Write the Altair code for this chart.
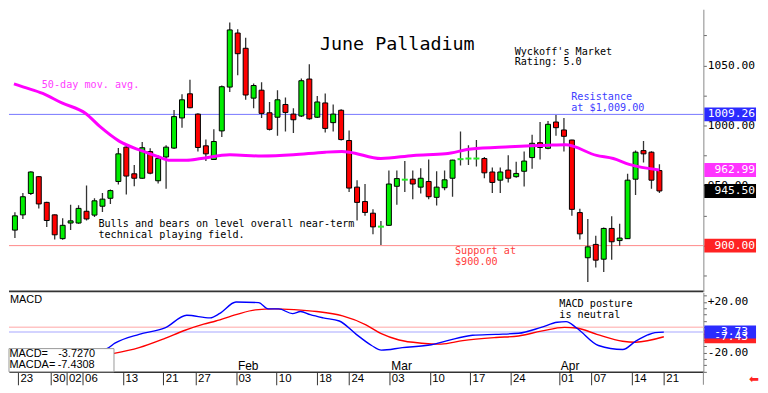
import altair as alt
import pandas as pd

# ---------------- data ----------------
day_index = list(range(82))
opens = [912.9, 925.6, 943.4, 957.4, 936.0, 925.6, 905.8, 918.8, 918.8, 928.6,
         925.4, 932.8, 939.4, 953.4, 982.0, 959.8, 956.1, 978.3, 954.0, 973.8,
         981.2, 1006.3, 1026.4, 1009.5, 983.1, 971.7, 995.5, 1032.0, 1077.0, 1064.3,
         1022.8, 1029.4, 1010.6, 1006.9, 1017.5, 1009.5, 1007.9, 1038.7, 1006.9, 1018.8,
         1002.4, 1012.7, 987.5, 948.7, 936.7, 927.0, 915.4, 916.9, 949.4, 954.5,
         955.3, 948.7, 953.4, 940.2, 948.2, 956.1, 971.8, 972.3, 972.3, 972.5,
         961.3, 954.5, 962.9, 957.4, 961.9, 973.3, 985.7, 981.0, 1002.9, 996.3,
         987.9, 927.5, 889.9, 901.0, 888.7, 914.3, 904.2, 905.8, 955.3, 979.1,
         977.8, 962.5]
highs = [927.8, 943.9, 961.9, 958.0, 936.5, 926.0, 922.8, 934.1, 933.6, 950.0,
         939.4, 943.9, 946.8, 981.2, 983.0, 967.2, 986.3, 981.0, 975.2, 983.6,
         1012.9, 1026.0, 1038.1, 1010.3, 988.3, 996.8, 1033.3, 1085.7, 1080.2, 1073.0,
         1034.9, 1036.0, 1019.6, 1029.4, 1023.3, 1014.3, 1039.1, 1051.0, 1024.6, 1026.7,
         1017.5, 1013.5, 995.8, 954.5, 951.3, 930.2, 920.4, 962.5, 962.5, 970.4,
         962.5, 964.5, 971.7, 961.9, 962.5, 971.4, 995.0, 983.6, 987.9, 973.8,
         965.1, 965.1, 975.2, 969.8, 978.3, 992.3, 1002.9, 1003.7, 1008.7, 1006.3,
         988.1, 930.7, 922.2, 908.2, 915.1, 924.4, 918.3, 959.8, 979.1, 987.1,
         978.6, 967.7]
lows = [906.3, 922.2, 942.1, 931.0, 915.6, 905.0, 904.8, 912.9, 918.3, 920.9,
        923.8, 928.0, 934.7, 950.8, 942.6, 949.4, 955.6, 959.5, 951.8, 947.4,
        980.4, 998.2, 1014.3, 978.3, 970.4, 971.4, 990.5, 1028.0, 1041.8, 1021.4,
        1014.3, 1006.3, 995.8, 991.5, 995.0, 993.7, 1007.1, 1004.8, 1006.3, 994.2,
        995.0, 987.5, 944.7, 920.9, 924.8, 909.5, 900.6, 916.7, 934.1, 944.7,
        938.7, 943.4, 938.7, 933.3, 946.0, 940.7, 966.7, 967.2, 965.9, 956.1,
        943.9, 943.9, 952.6, 956.6, 949.2, 964.1, 971.7, 980.2, 991.5, 978.3,
        924.8, 905.0, 869.8, 881.7, 878.0, 888.3, 899.8, 905.6, 942.1, 969.3,
        947.4, 943.9]
closes = [924.8, 940.7, 961.3, 934.7, 920.9, 909.0, 916.9, 920.6, 931.0, 922.2,
          937.3, 938.7, 945.8, 976.4, 957.9, 956.1, 981.5, 960.3, 972.5, 982.0,
          1007.4, 1021.4, 1014.8, 981.7, 976.4, 986.7, 1032.3, 1079.6, 1059.8, 1025.4,
          1033.3, 1010.1, 996.8, 1021.4, 1010.9, 1004.8, 1037.3, 1005.6, 1019.6, 997.6,
          1009.5, 988.3, 947.9, 936.0, 927.6, 915.6, 915.8, 951.3, 955.8, 954.9,
          951.3, 956.1, 940.7, 948.7, 954.8, 971.2, 972.0, 972.5, 972.5, 960.6,
          952.6, 961.3, 956.1, 960.1, 970.4, 985.2, 981.7, 1001.0, 998.2, 991.0,
          930.2, 909.8, 899.0, 887.9, 914.3, 903.2, 906.3, 954.5, 977.8, 976.4,
          954.5, 945.5]

ma_index = [-0.12, 1.1, 3.5, 5.9, 8.9, 10.7, 13.1, 15.9, 18, 19.5, 21.6, 23.4, 27, 31,
            35, 39, 41.1, 42, 46, 50.1, 54.1, 57.3, 62.2, 67.1, 69.2, 73.1, 75.2, 77.2, 81]
ma_values = [1034.7, 1032, 1026.7, 1018.8, 1010, 999, 987, 979, 974, 971, 971, 972.5, 975.6,
             974.6, 975.6, 977.8, 978.3, 977.8, 972.5, 975.1, 976.4, 980.4, 982.3, 983.6,
             983.9, 975.1, 972.5, 967.7, 962.99]

macd_index = [9, 12, 13, 16, 19.2, 21.9, 24.8, 26, 28, 30.8, 32, 33.3, 35, 36, 37.2, 38.8,
              40.8, 42.9, 44.8, 46, 48.6, 52.2, 54.2, 57.3, 60.2, 63, 65.8, 67.8, 68.9,
              70.2, 72.9, 75.9, 77.5, 79, 79.9, 81]
macd_values = [-20, -16.8, -12.5, -5.5, -0.5, 9.5, 7.5, 11, 20, 19.5, 14.6, 14.6, 10.8, 12.5,
               10, 7.5, 5, -5.5, -14.3, -18, -16, -13.7, -10.5, -6.2, -5.5, -4.7, 0, 4, 4.5,
               -0.5, -14.3, -17.5, -11, -6, -4.2, -3.73]
macda_index = [9, 12.9, 16, 19.2, 21.6, 24, 25.5, 28, 30.4, 32.8, 35.2, 38, 41.2, 44.1, 46,
               48.2, 51, 53.4, 56.1, 60.2, 63, 65.8, 68.7, 70.2, 72.7, 75.9, 77.5, 81]
macda_values = [-24, -20.5, -16, -8.7, -2.5, 2.5, 5, 10, 13.8, 14.6, 14, 12.5, 9, 2, -5,
                -10, -12.5, -13.2, -10.5, -8, -6.8, -3, 0, -0.5, -5.5, -11, -11.7, -7.43]

tick_index = [1, 5, 7, 9, 14, 19, 23, 28, 33, 38, 42, 47, 52, 57, 62, 68, 72, 77, 81]
tick_labels = ["23", "30", "02", "06", "13", "21", "27", "03", "10", "18", "24",
               "03", "10", "17", "24", "01", "07", "14", "21"]
month_index = [28, 47, 68]
month_labels = ["Feb", "Mar", "Apr"]

resistance = 1009.26
support = 900.00
price_boxes = [1009.26, 962.99, 945.50, 900.00]
price_box_labels = ["1009.26", "962.99", "945.50", "900.00"]
price_box_colors = ["#2b2bff", "#ff33ff", "#000000", "#ff2222"]
macd_boxes = [-7.43, -3.73]
macd_box_labels = ["-7.43", "-3.73"]
macd_box_colors = ["#ff2222", "#2b2bff"]

# ---------------- layout ----------------
W = 699
H1 = 284
H2 = 80
BOXW = 53
MONO = "DejaVu Sans Mono"
SANS = "Liberation Sans"

xscale = alt.Scale(domain=[-0.12, 85.9], nice=False, zero=False)
yscale = alt.Scale(domain=[861.9, 1096.8], nice=False, zero=False)
mscale = alt.Scale(domain=[-35.1, 27.6], nice=False, zero=False)

# axis labels that the value boxes cover completely in the reference are left blank
yax = alt.Axis(orient="right", title=None, values=list(range(875, 1100, 25)),
               labelExpr="(datum.value % 50 == 0 && datum.value != 900) ? format(datum.value, '.2f') : ''",
               tickSize=3, labelPadding=1, grid=False, domainColor="#888888",
               tickColor="#666666", labelFont=MONO, labelFontSize=11.3, labelColor="black")

lab_arr = [""] * 82
for i, s in zip(tick_index, tick_labels):
    lab_arr[i] = s
label_expr = "[" + ",".join("'" + s + "'" for s in lab_arr) + "][datum.value]"
xax = alt.Axis(orient="bottom", title=None, values=tick_index, labelExpr=label_expr,
               tickSize=13, tickColor="#333333", domainColor="#333333", domainWidth=1.5,
               labelAlign="left", labelBaseline="top", labelPadding=-12, labelOffset=2,
               labelFont=SANS, labelFontSize=11.5, labelColor="black", labelFlush=False,
               labelOverlap=False, grid=False)
max_ = alt.Axis(orient="right", title=None, values=list(range(-35, 30, 5)),
                labelExpr="datum.value == 20 ? '+20.00' : datum.value == -20 ? '-20.00' : ''",
                tickSize=3, labelPadding=1, grid=False, domainColor="#888888",
                tickColor="#666666", labelFont=MONO, labelFontSize=11.3, labelColor="black")


def note(text, x, y, color="black", size=10.2, font=MONO, align="left"):
    return alt.Chart(pd.DataFrame({"t": [text]})).mark_text(
        align=align, baseline="middle", font=font, fontSize=size, color=color
    ).encode(x=alt.value(x), y=alt.value(y), text="t:N")


# ---------------- price panel ----------------
df = pd.DataFrame({"i": day_index, "o": opens, "h": highs, "l": lows, "c": closes})
X = alt.X("i:Q", scale=xscale, axis=None)

levels = alt.Chart(pd.DataFrame({"v": [resistance, support], "col": ["#7777ff", "#ff8888"]})).mark_rule(
    strokeWidth=1).encode(y=alt.Y("v:Q", scale=yscale, axis=yax), color=alt.Color("col:N", scale=None))

wicks = alt.Chart(df).mark_rule(color="#333333", strokeWidth=1.3, clip=True).encode(
    x=X, y=alt.Y("l:Q", scale=yscale, axis=yax), y2="h:Q")

bodies = alt.Chart(df).transform_filter("abs(datum.c - datum.o) >= 0.6").mark_bar(
    size=5, stroke="black", strokeWidth=1, clip=True).encode(
    x=X, y=alt.Y("o:Q", scale=yscale, axis=yax), y2="c:Q",
    fill=alt.condition("datum.c >= datum.o", alt.value("#00ee00"), alt.value("#ff0000")))

dojis = alt.Chart(df).transform_filter("abs(datum.c - datum.o) < 0.6").mark_rule(
    color="#22ee22", strokeWidth=2, xOffset=-3, x2Offset=3).encode(
    x=X, x2="i:Q", y=alt.Y("c:Q", scale=yscale, axis=yax))

ma = alt.Chart(pd.DataFrame({"i": ma_index, "v": ma_values})).mark_line(
    color="#ff00ff", strokeWidth=3, interpolate="monotone", clip=True).encode(
    x=X, y=alt.Y("v:Q", scale=yscale, axis=yax))

border = alt.Chart(pd.DataFrame({"a": [0]})).mark_rule(color="#333333", strokeWidth=2).encode(
    x=alt.value(0), x2=alt.value(W), y=alt.value(H1))

pbox_df = pd.DataFrame({"v": price_boxes, "lab": price_box_labels, "col": price_box_colors})
pboxes = alt.Chart(pbox_df).mark_rect(yOffset=-7, y2Offset=7).encode(
    x=alt.value(W + 1), x2=alt.value(W + BOXW), y=alt.Y("v:Q", scale=yscale, axis=yax), y2="v:Q",
    fill=alt.Color("col:N", scale=None))
ptexts = alt.Chart(pbox_df).mark_text(align="right", baseline="middle", font=MONO, fontSize=11.3,
                                      color="white").encode(
    x=alt.value(W + BOXW - 1), y=alt.Y("v:Q", scale=yscale, axis=yax), text="lab:N")

price = alt.layer(
    levels, wicks, bodies, dojis, ma, border,
    note("June Palladium", 313, 35.5, size=18.5),
    note("Wyckoff's Market", 509, 43.2),
    note("Rating: 5.0", 509, 53.2),
    note("Resistance", 566, 88.8, color="#4040ff"),
    note("at $1,009.00", 566, 99.0, color="#4040ff"),
    note("50-day mov. avg.", 33, 75.8, color="#ff40ff"),
    note("Bulls and bears on level overall near-term", 90, 216.6),
    note("technical playing field.", 90, 227.6),
    note("Support at", 449, 243.4, color="#ff4040"),
    note("$900.00", 449, 254.4, color="#ff4040"),
    pboxes, ptexts,
).properties(width=W, height=H1)

# ---------------- MACD panel ----------------
XM = alt.X("i:Q", scale=xscale, axis=xax)
mrules = alt.Chart(pd.DataFrame({"v": [0.0, macd_boxes[1]], "col": ["#ffc4c4", "#c4c4ff"]})).mark_rule(
    strokeWidth=1.5).encode(y=alt.Y("v:Q", scale=mscale, axis=max_), color=alt.Color("col:N", scale=None))
macd_line = alt.Chart(pd.DataFrame({"i": macd_index, "v": macd_values})).mark_line(
    color="#0000ff", strokeWidth=1.4, interpolate="monotone", clip=True).encode(
    x=XM, y=alt.Y("v:Q", scale=mscale, axis=max_))
macda_line = alt.Chart(pd.DataFrame({"i": macda_index, "v": macda_values})).mark_line(
    color="#ff0000", strokeWidth=1.4, interpolate="monotone", clip=True).encode(
    x=XM, y=alt.Y("v:Q", scale=mscale, axis=max_))
months = alt.Chart(pd.DataFrame({"i": month_index, "t": month_labels})).mark_text(
    align="left", baseline="middle", font=SANS, fontSize=12, dx=2, color="black").encode(
    x=XM, y=alt.value(74.5), text="t:N")
legend_box = alt.Chart(pd.DataFrame({"a": [0]})).mark_rect(
    fill="white", stroke="#999999", strokeWidth=1).encode(
    x=alt.value(0), x2=alt.value(105.7), y=alt.value(56.6), y2=alt.value(80))
mbox_df = pd.DataFrame({"v": macd_boxes, "lab": macd_box_labels, "col": macd_box_colors})
mboxes = alt.Chart(mbox_df).mark_rect(yOffset=-6.5, y2Offset=6.5).encode(
    x=alt.value(W + 1), x2=alt.value(W + BOXW), y=alt.Y("v:Q", scale=mscale, axis=max_), y2="v:Q",
    fill=alt.Color("col:N", scale=None))
mtexts = alt.Chart(mbox_df).mark_text(align="right", baseline="middle", font=MONO, fontSize=11.3,
                                      color="white").encode(
    x=alt.value(W + BOXW - 8), y=alt.Y("v:Q", scale=mscale, axis=max_), text="lab:N")
strip_line = alt.Chart(pd.DataFrame({"a": [0]})).mark_rule(color="#888888", strokeWidth=1).encode(
    x=alt.value(W), y=alt.value(H2), y2=alt.value(H2 + 13))

macd = alt.layer(
    mrules, macda_line, macd_line, months, legend_box,
    note("MACD", 1, 7.2, font=SANS, size=11),
    note("MACD posture", 554, 11.6),
    note("is neutral", 554, 22.6),
    note("MACD=", 0.5, 62.3, font=SANS, size=11),
    note("MACDA=", 0.5, 73.6, font=SANS, size=11),
    note("-3.7270", 49.5, 62.3, font=SANS, size=11),
    note("-7.4308", 49, 73.6, font=SANS, size=11),
    mboxes, mtexts, strip_line,
    note("\u2b05", W + 46, H2 + 7, color="#ff2222", size=12, font="DejaVu Sans"),
).properties(width=W, height=H2)

chart = alt.vconcat(price, macd, spacing=0).properties(padding=0).configure_view(
    stroke=None).configure_concat(spacing=0)

chart.save("out.html", embed_options={"renderer": "svg", "actions": False})
